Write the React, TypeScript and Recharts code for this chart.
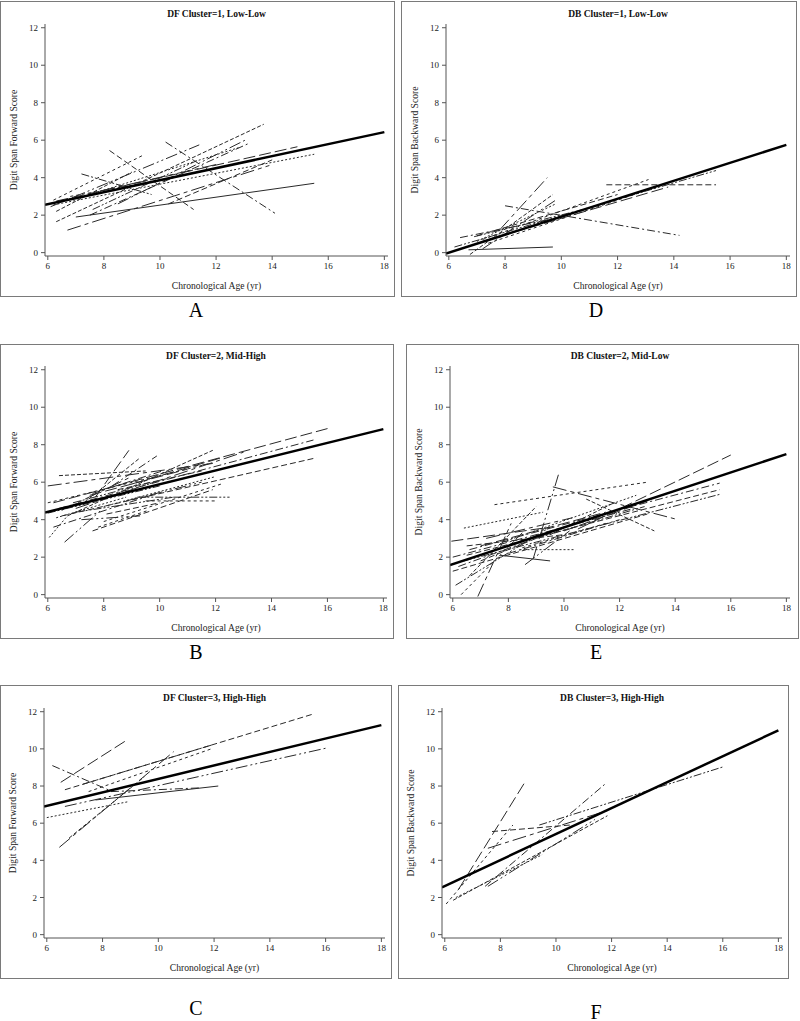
import React from 'react';
import { LineChart, Line, XAxis, YAxis } from 'recharts';

const ageTicks = [6, 8, 10, 12, 14, 16, 18];
const scoreTicks = [0, 2, 4, 6, 8, 10, 12];
const meanAges = [5.9, 18];

// subject trajectories: [startAge, startScore, endAge, endScore]
const dfLowSubjects = [
  [7.0, 1.9, 15.5, 3.7],
  [10.2, 5.9, 14.1, 2.1],
  [8.2, 5.45, 11.2, 2.3],
  [7.2, 4.2, 9.7, 3.1],
  [6.2, 2.8, 9.4, 5.2],
  [6.7, 1.2, 13.9, 4.65],
  [6.3, 1.65, 13.7, 6.85],
  [6.1, 2.45, 11.4, 5.75],
  [6.2, 2.55, 15.5, 5.25],
  [6.3, 2.75, 14.9, 5.65],
  [7.5, 2.0, 13.2, 5.85],
  [10.3, 2.6, 14.0, 4.95],
  [7.6, 2.3, 11.3, 4.9],
  [6.8, 3.0, 10.5, 4.0],
  [7.9, 3.3, 12.0, 4.7],
  [6.3, 2.2, 9.0, 4.3],
  [8.5, 2.6, 13.1, 6.05],
  [7.3, 3.0, 12.8, 5.6],
];
const dfLowMean = [2.55, 6.43];

const dbLowSubjects = [
  [6.7, 0.15, 9.7, 0.3],
  [8.0, 2.5, 14.2, 0.92],
  [11.6, 3.62, 15.5, 3.62],
  [6.2, 0.3, 15.5, 4.38],
  [7.2, 0.7, 13.1, 3.9],
  [7.8, 1.2, 9.5, 4.0],
  [6.75, -0.1, 9.7, 3.1],
  [7.2, 0.2, 9.8, 2.8],
  [7.0, 0.6, 9.8, 2.6],
  [7.2, 0.6, 13.8, 3.5],
  [6.4, 0.8, 10.0, 1.9],
  [7.0, 0.9, 12.0, 3.1],
  [6.9, 0.85, 10.5, 2.2],
  [7.4, 0.5, 13.6, 3.6],
];
const dbLowMean = [-0.05, 5.75];

const dfMidSubjects = [
  [6.2, 4.9, 16.1, 8.9],
  [6.4, 4.6, 15.5, 8.25],
  [6.5, 4.2, 15.6, 7.3],
  [9.2, 5.2, 12.5, 5.2],
  [9.5, 5.0, 12.0, 5.0],
  [6.0, 5.8, 11.9, 7.0],
  [6.4, 6.35, 9.5, 6.6],
  [6.6, 2.8, 7.9, 4.5],
  [6.05, 3.05, 6.7, 4.2],
  [7.7, 5.2, 8.9, 7.7],
  [8.3, 5.8, 9.9, 7.4],
  [7.6, 3.4, 11.9, 5.6],
  [6.0, 4.35, 10.0, 5.8],
  [6.0, 4.9, 11.8, 7.0],
  [7.0, 4.6, 13.0, 7.6],
  [6.7, 4.2, 11.9, 7.7],
  [7.2, 4.0, 9.3, 4.2],
  [8.0, 4.7, 12.0, 6.3],
  [7.5, 5.3, 11.0, 6.7],
  [6.2, 3.6, 9.9, 5.4],
  [8.5, 5.6, 11.5, 6.6],
  [7.0, 4.4, 10.5, 5.2],
  [8.0, 3.9, 12.2, 5.9],
  [6.5, 4.5, 9.0, 6.3],
  [7.3, 4.9, 9.3, 7.3],
  [8.8, 5.0, 11.5, 6.0],
  [6.3, 4.1, 8.8, 5.2],
  [9.0, 5.9, 12.2, 7.3],
  [7.6, 5.4, 10.1, 6.6],
  [8.1, 4.3, 10.0, 4.9],
  [6.9, 4.9, 9.7, 6.0],
  [7.8, 3.6, 9.6, 4.5],
];
const dfMidMean = [4.38, 8.83];

const dbMidSubjects = [
  [10.5, 3.5, 16.0, 7.45],
  [6.6, 2.4, 15.6, 5.95],
  [6.5, 2.1, 15.6, 5.6],
  [6.4, 1.8, 15.6, 5.35],
  [7.5, 4.8, 13.0, 6.0],
  [9.6, 5.75, 14.1, 4.0],
  [10.8, 5.1, 13.25, 3.4],
  [8.9, 1.95, 9.8, 6.4],
  [6.4, 3.55, 9.25, 4.4],
  [5.95, 2.85, 9.5, 3.6],
  [6.0, 2.0, 12.5, 4.6],
  [6.0, 1.25, 13.0, 4.3],
  [6.1, 0.5, 9.5, 3.6],
  [6.3, 0.0, 8.5, 3.3],
  [6.9, -0.1, 8.1, 3.8],
  [6.6, 1.0, 9.0, 4.7],
  [7.7, 2.1, 9.5, 1.8],
  [8.4, 2.4, 10.4, 2.4],
  [7.0, 2.6, 11.5, 4.4],
  [8.0, 2.2, 12.0, 4.0],
  [6.5, 2.6, 10.0, 3.2],
  [9.0, 3.0, 12.9, 4.7],
  [8.5, 2.5, 11.5, 3.8],
  [7.2, 3.0, 10.3, 4.1],
  [9.5, 3.2, 11.8, 4.9],
  [8.6, 1.6, 10.2, 3.4],
  [7.8, 2.8, 12.6, 5.3],
  [10.0, 3.4, 13.0, 5.0],
  [6.2, 1.5, 8.8, 2.9],
  [7.0, 1.8, 9.5, 3.3],
];
const dbMidMean = [1.58, 7.5];

const dfHighSubjects = [
  [6.5, 8.2, 8.9, 10.5],
  [6.2, 9.1, 8.2, 7.8],
  [6.65, 7.8, 15.5, 11.85],
  [7.3, 8.1, 11.9, 10.2],
  [7.5, 7.7, 11.9, 10.0],
  [6.45, 4.7, 10.55, 9.85],
  [6.8, 5.2, 9.5, 8.5],
  [6.65, 6.9, 16.05, 10.05],
  [6.0, 6.3, 8.9, 7.15],
  [7.75, 7.25, 12.15, 8.0],
  [8.3, 7.7, 11.5, 7.9],
];
const dfHighMean = [6.9, 11.28];

const dbHighSubjects = [
  [6.5, 2.45, 8.9, 8.25],
  [7.45, 2.6, 11.8, 8.15],
  [7.7, 5.55, 10.5, 5.9],
  [9.4, 5.9, 16.05, 9.05],
  [6.05, 1.65, 8.45, 5.9],
  [7.55, 4.65, 11.9, 6.7],
  [6.3, 1.85, 11.85, 6.4],
  [7.55, 2.6, 11.4, 6.2],
  [6.4, 2.0, 9.5, 4.3],
];
const dbHighMean = [2.55, 11.0];

const font = "'Liberation Serif', 'Times New Roman', serif";
// SAS-style line patterns, cycled per subject (solid only where the figure has it)
const dashes = ['12 4', '8 3 2 3', '6 3', '8 2 2 2 2 2', '3 3', '14 4 4 4', '4 2', '12 3 2 3 2 3', '2 2'];
const xDomain = [5.9, 18.13];
const yDomain = [-0.18, 12.2];

const panels = [
  {
    title: 'DF Cluster=1, Low-Low', yTitle: 'Digit Span Forward Score', letter: 'A',
    subjects: dfLowSubjects, mean: dfLowMean, solid: [0],
    frame: { l: 0, t: 1, r: 395, b: 297 }, plot: { l: 45, t: 24, r: 388, b: 256 }, letterAt: [196, 310],
  },
  {
    title: 'DB Cluster=1, Low-Low', yTitle: 'Digit Span Backward Score', letter: 'D',
    subjects: dbLowSubjects, mean: dbLowMean, solid: [0],
    frame: { l: 401, t: 1, r: 797, b: 297 }, plot: { l: 446, t: 24, r: 790, b: 256 }, letterAt: [596, 310],
  },
  {
    title: 'DF Cluster=2, Mid-High', yTitle: 'Digit Span Forward Score', letter: 'B',
    subjects: dfMidSubjects, mean: dfMidMean, solid: [],
    frame: { l: 0, t: 344, r: 394, b: 639 }, plot: { l: 45, t: 366, r: 387, b: 598 }, letterAt: [196, 652],
  },
  {
    title: 'DB Cluster=2, Mid-Low', yTitle: 'Digit Span Backward Score', letter: 'E',
    subjects: dbMidSubjects, mean: dbMidMean, solid: [16],
    frame: { l: 406, t: 344, r: 799, b: 639 }, plot: { l: 450, t: 366, r: 790, b: 598 }, letterAt: [596, 652],
  },
  {
    title: 'DF Cluster=3, High-High', yTitle: 'Digit Span Forward Score', letter: 'C',
    subjects: dfHighSubjects, mean: dfHighMean, solid: [9],
    frame: { l: 0, t: 685, r: 392, b: 979 }, plot: { l: 44, t: 708, r: 385, b: 938 }, letterAt: [196, 1008],
  },
  {
    title: 'DB Cluster=3, High-High', yTitle: 'Digit Span Backward Score', letter: 'F',
    subjects: dbHighSubjects, mean: dbHighMean, solid: [],
    frame: { l: 398, t: 685, r: 789, b: 979 }, plot: { l: 442, t: 708, r: 782, b: 938 }, letterAt: [596, 1012],
  },
];

const tickStyle = { fontSize: 9, fill: '#222', fontFamily: font };

function Panel({ p }: { p: any }) {
  const { frame, plot } = p;
  const w = frame.r - frame.l;
  const h = frame.b - frame.t;
  const yW = 40;
  const xH = 30;
  const margin = {
    top: plot.t - frame.t,
    right: frame.r - plot.r,
    left: plot.l - frame.l - yW,
    bottom: frame.b - plot.b - xH,
  };
  const cx = (plot.l + plot.r) / 2;
  const cy = (plot.t + plot.b) / 2;
  const meanData = meanAges.map((a, i) => ({ age: a, score: p.mean[i] }));

  return (
    <>
      <div
        style={{
          position: 'absolute', left: frame.l, top: frame.t, width: w, height: h,
          border: '1.5px solid #7a7a7a', boxSizing: 'border-box',
        }}
      />
      <div style={{ position: 'absolute', left: frame.l, top: frame.t }}>
        <LineChart width={w} height={h} margin={margin}>
          <XAxis
            type="number" dataKey="age" domain={xDomain} ticks={ageTicks} allowDataOverflow
            height={xH} tickSize={4} tickMargin={3} tick={tickStyle}
            axisLine={{ stroke: '#555' }} tickLine={{ stroke: '#555' }}
          />
          <XAxis
            xAxisId="top" orientation="top" type="number" domain={xDomain} allowDataOverflow
            height={0} tick={false} tickLine={false} axisLine={{ stroke: '#666' }}
          />
          <YAxis
            type="number" domain={yDomain} ticks={scoreTicks} allowDataOverflow
            width={yW} tickSize={4} tickMargin={3} tick={tickStyle}
            axisLine={{ stroke: '#555' }} tickLine={{ stroke: '#555' }}
          />
          <YAxis
            yAxisId="right" orientation="right" type="number" domain={yDomain} allowDataOverflow
            width={0} tick={false} tickLine={false} axisLine={{ stroke: '#666' }}
          />
          {p.subjects.map((s: number[], i: number) => (
            <Line
              key={i}
              data={[{ age: s[0], score: s[1] }, { age: s[2], score: s[3] }]}
              dataKey="score"
              stroke="#2a2a2a"
              strokeWidth={1}
              strokeDasharray={p.solid.includes(i) ? undefined : dashes[i % dashes.length]}
              dot={false}
              activeDot={false}
              isAnimationActive={false}
            />
          ))}
          <Line
            data={meanData}
            dataKey="score"
            stroke="#000"
            strokeWidth={2.5}
            dot={false}
            activeDot={false}
            isAnimationActive={false}
          />
        </LineChart>
      </div>
      <div
        style={{
          position: 'absolute', left: cx, top: plot.t - 10, transform: 'translate(-50%, -50%)',
          fontFamily: font, fontWeight: 'bold', fontSize: 9.5, whiteSpace: 'nowrap', color: '#111',
        }}
      >
        {p.title}
      </div>
      <div
        style={{
          position: 'absolute', left: cx, top: plot.b + 29, transform: 'translate(-50%, -50%)',
          fontFamily: font, fontSize: 9.6, whiteSpace: 'nowrap', color: '#222',
        }}
      >
        Chronological Age (yr)
      </div>
      <div
        style={{
          position: 'absolute', left: plot.l - 32, top: cy,
          transform: 'translate(-50%, -50%) rotate(-90deg)',
          fontFamily: font, fontSize: 9.6, whiteSpace: 'nowrap', color: '#222',
        }}
      >
        {p.yTitle}
      </div>
      <div
        style={{
          position: 'absolute', left: p.letterAt[0], top: p.letterAt[1], transform: 'translate(-50%, -50%)',
          fontFamily: font, fontSize: 20, color: '#000',
        }}
      >
        {p.letter}
      </div>
    </>
  );
}

export default function App() {
  return (
    <div style={{ position: 'absolute', left: 0, top: 0, width: 800, height: 1021, background: '#fff' }}>
      {panels.map((p) => (
        <Panel key={p.letter} p={p} />
      ))}
    </div>
  );
}
